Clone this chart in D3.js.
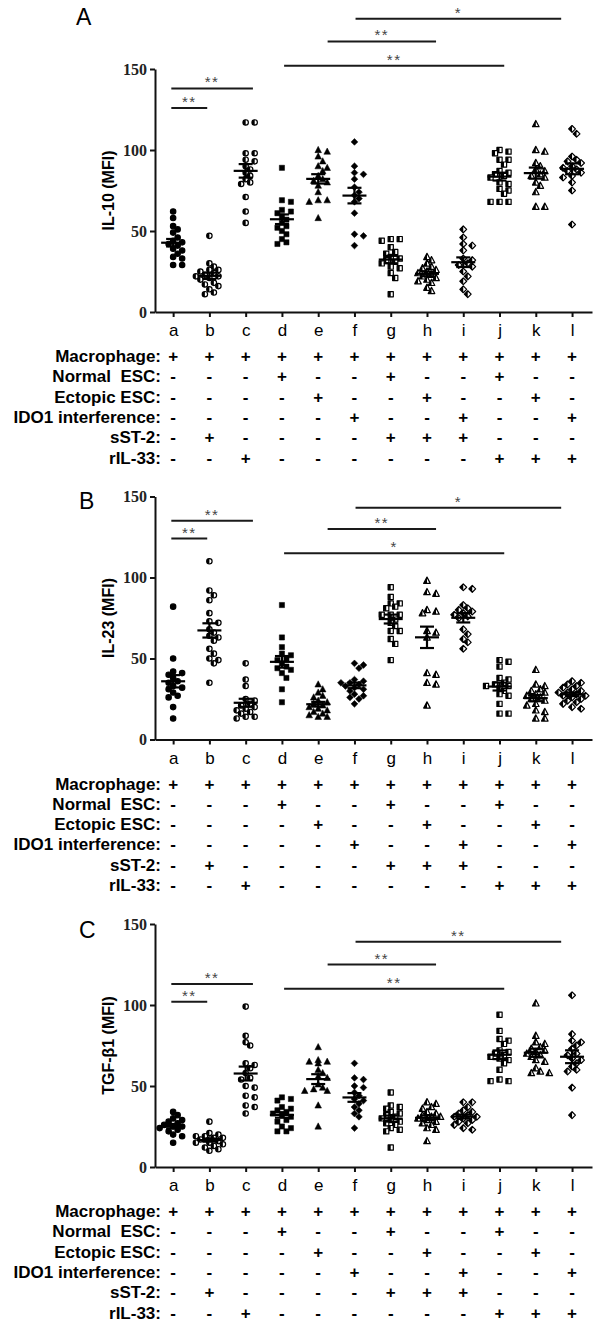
<!DOCTYPE html>
<html lang="en">
<head>
<meta charset="UTF-8" />
<title>IL-10 / IL-23 / TGF-β1</title>
<script src="https://cdn.jsdelivr.net/npm/d3@7/dist/d3.min.js"></script>
<style>
  body { margin: 0; background: #fff; }
  svg { display: block; font-family: "Liberation Sans", Arial, sans-serif; }
</style>
</head>
<body>
<svg id="chart" width="600" height="1327"></svg>
<script>
// groups along the x axis
const groups = ['a', 'b', 'c', 'd', 'e', 'f', 'g', 'h', 'i', 'j', 'k', 'l'];
// marker per group (GraphPad style)
const markers = ['circle', 'circleHalf', 'circleHalf', 'square', 'triangle', 'diamond',
  'squareHalf', 'triangleHalf', 'diamondHalf', 'squareHalf', 'triangleHalf', 'diamondHalf'];

// treatment table under every panel
const conditions = ['Macrophage:', 'Normal  ESC:', 'Ectopic ESC:', 'IDO1 interference:', 'sST-2:', 'rIL-33:'];
const conditionSigns = [
  '++++++++++++',
  '---+--+--+--',
  '----+--+--+-',
  '-----+--+--+',
  '-+----+++---',
  '--+------+++'
];

const yTicks = [0, 50, 100, 150];

// panel A: IL-10 (MFI)
const il10 = [
  [62, 58, 53, 51, 49, 46, 44, 43, 42, 41, 39, 38, 36, 34, 33, 29, 29],
  [47, 30, 28, 26, 26, 25, 24, 23, 22, 22, 21, 20, 18, 17, 16, 14, 12, 11],
  [117, 117, 98, 98, 94, 93, 90, 88, 86, 84, 82, 80, 79, 71, 62, 55],
  [89, 69, 68, 63, 62, 61, 59, 57, 55, 53, 52, 50, 48, 45, 43, 42],
  [100, 99, 96, 93, 90, 89, 87, 84, 82, 81, 80, 78, 74, 69, 69, 68, 58],
  [105, 90, 86, 85, 82, 77, 74, 72, 70, 68, 61, 48, 47, 41],
  [45, 45, 44, 40, 37, 36, 34, 33, 32, 31, 30, 28, 27, 24, 21, 11],
  [34, 32, 30, 28, 27, 26, 25, 24, 23, 22, 21, 20, 19, 18, 15, 13],
  [51, 46, 42, 41, 38, 33, 32, 30, 29, 28, 25, 22, 19, 14, 11],
  [100, 99, 98, 94, 94, 91, 87, 86, 85, 84, 83, 80, 79, 76, 75, 73, 68, 68, 68],
  [116, 100, 99, 92, 90, 88, 87, 85, 84, 83, 80, 78, 74, 65, 65],
  [113, 110, 96, 94, 93, 92, 90, 89, 88, 87, 86, 84, 83, 80, 75, 54]
];
// panel B: IL-23 (MFI)
const il23 = [
  [82, 50, 42, 41, 40, 38, 36, 35, 33, 32, 31, 29, 27, 26, 20, 13],
  [110, 92, 89, 86, 78, 73, 72, 68, 66, 64, 63, 61, 56, 53, 50, 49, 47, 35],
  [47, 37, 33, 25, 24, 22, 21, 20, 19, 18, 17, 16, 14, 14, 13],
  [83, 63, 57, 53, 52, 50, 49, 47, 45, 44, 43, 41, 38, 31, 23],
  [34, 31, 29, 27, 26, 24, 23, 22, 21, 20, 19, 18, 17, 16, 15, 14, 14],
  [47, 46, 44, 37, 35, 36, 35, 34, 33, 32, 31, 30, 28, 27, 26, 25, 22],
  [94, 88, 84, 84, 82, 81, 77, 77, 77, 74, 72, 70, 67, 67, 62, 59, 49],
  [98, 91, 90, 80, 79, 78, 67, 66, 63, 41, 40, 35, 34, 21],
  [94, 93, 83, 81, 80, 79, 78, 77, 76, 75, 68, 65, 62, 60, 56],
  [49, 48, 45, 38, 37, 35, 34, 33, 33, 32, 30, 28, 27, 22, 16, 16],
  [43, 34, 33, 31, 30, 29, 28, 27, 26, 25, 24, 22, 21, 18, 17, 13, 13],
  [36, 35, 34, 33, 32, 31, 30, 29, 29, 28, 27, 27, 26, 25, 24, 23, 22, 20, 19]
];
// panel C: TGF-β1 (MFI)
const tgfb1 = [
  [34, 32, 30, 29, 28, 27, 26, 25, 25, 24, 23, 22, 20, 19, 15],
  [28, 21, 20, 19, 19, 18, 18, 17, 17, 16, 16, 15, 15, 14, 13, 12, 11, 10],
  [99, 81, 77, 75, 64, 63, 61, 58, 55, 54, 50, 49, 44, 43, 38, 37, 33],
  [43, 42, 41, 37, 36, 35, 34, 33, 32, 31, 29, 28, 25, 24, 22, 22],
  [74, 66, 65, 65, 64, 60, 58, 56, 55, 51, 49, 48, 47, 47, 38, 25],
  [64, 55, 54, 50, 49, 46, 44, 42, 41, 39, 37, 35, 33, 31, 24],
  [46, 38, 37, 36, 34, 33, 32, 31, 30, 29, 28, 27, 26, 24, 23, 22, 12],
  [40, 39, 37, 36, 34, 33, 32, 31, 31, 30, 29, 28, 27, 26, 24, 23, 16],
  [40, 40, 37, 35, 34, 33, 32, 31, 31, 30, 30, 29, 28, 27, 26, 24, 23],
  [94, 84, 79, 78, 76, 72, 71, 70, 69, 68, 67, 66, 64, 60, 54, 53, 53],
  [101, 81, 77, 76, 74, 73, 72, 71, 70, 69, 68, 66, 65, 61, 59, 58, 58],
  [106, 82, 78, 77, 75, 73, 70, 69, 67, 66, 64, 62, 60, 59, 49, 32]
];

// significance bars: from/to in group index units, y in MFI
const il10Sig = [
  { from: -0.05, to: 0.94, y: 126, label: '**' },
  { from: -0.05, to: 2.2, y: 138, label: '**' },
  { from: 3.06, to: 9.13, y: 152, label: '**' },
  { from: 4.26, to: 7.25, y: 167, label: '**' },
  { from: 5.03, to: 10.7, y: 181, label: '*' }
];
const il23Sig = [
  { from: -0.05, to: 0.94, y: 124, label: '**' },
  { from: -0.05, to: 2.2, y: 135, label: '**' },
  { from: 3.06, to: 9.13, y: 115, label: '*' },
  { from: 4.26, to: 7.25, y: 130, label: '**' },
  { from: 5.03, to: 10.7, y: 143, label: '*' }
];
const tgfb1Sig = [
  { from: -0.05, to: 0.94, y: 102, label: '**' },
  { from: -0.05, to: 2.2, y: 113, label: '**' },
  { from: 3.06, to: 9.13, y: 110, label: '**' },
  { from: 4.26, to: 7.25, y: 125, label: '**' },
  { from: 5.03, to: 10.7, y: 139, label: '**' }
];

const panels = [
  { letter: 'A', title: 'IL-10 (MFI)', values: il10, sig: il10Sig, top: 0, letterY: 25 },
  { letter: 'B', title: 'IL-23 (MFI)', values: il23, sig: il23Sig, top: 427.5, letterY: 81 },
  { letter: 'C', title: 'TGF-β1 (MFI)', values: tgfb1, sig: tgfb1Sig, top: 855, letterY: 83 }
];

const svg = d3.select('#chart');
const x = d3.scaleLinear().domain([-0.5, 11.55]).range([155, 592]);

function drawMarker(g, shape, cx, cy) {
  const half = shape.endsWith('Half');
  const base = half ? shape.slice(0, -4) : shape;
  const fill = half ? '#fff' : '#000';
  let outline, left;
  if (base === 'circle') {
    const r = 2.7;
    g.append('circle').attr('cx', cx).attr('cy', cy).attr('r', r)
      .attr('fill', fill).attr('stroke', '#000').attr('stroke-width', 1.2);
    if (half) {
      g.append('path').attr('d', `M${cx},${cy - r}A${r},${r} 0 0 0 ${cx},${cy + r}Z`).attr('fill', '#000');
    }
    return;
  }
  if (base === 'square') {
    const s = 2.6;
    outline = [[cx - s, cy - s], [cx + s, cy - s], [cx + s, cy + s], [cx - s, cy + s]];
    left = [[cx - s, cy - s], [cx, cy - s], [cx, cy + s], [cx - s, cy + s]];
  } else if (base === 'triangle') {
    const s = 3.3;
    outline = [[cx, cy - s * 1.1], [cx + s, cy + s * 0.8], [cx - s, cy + s * 0.8]];
    left = [[cx, cy - s * 1.1], [cx, cy + s * 0.8], [cx - s, cy + s * 0.8]];
  } else {
    const s = 3.4;
    outline = [[cx, cy - s], [cx + s, cy], [cx, cy + s], [cx - s, cy]];
    left = [[cx, cy - s], [cx, cy + s], [cx - s, cy]];
  }
  g.append('polygon').attr('points', outline.join(' '))
    .attr('fill', fill).attr('stroke', '#000').attr('stroke-width', half ? 1.2 : 0.5)
    .attr('stroke-linejoin', 'round');
  if (half) g.append('polygon').attr('points', left.join(' ')).attr('fill', '#000');
}

// simple beeswarm: spread points with the same height sideways
function swarm(vals, y) {
  const placed = [];
  const step = 4.5, minDist = 5.4;
  const sorted = vals.slice().sort((p, q) => q - p);
  sorted.forEach(v => {
    const py = y(v);
    const tries = [0, step, -step, 2 * step, -2 * step, 3 * step, -3 * step];
    let dx = tries.find(t => placed.every(p => Math.hypot(p.dx - t, p.py - py) >= minDist));
    if (dx === undefined) dx = 0;
    placed.push({ v, py, dx });
  });
  return placed;
}

panels.forEach(p => {
  const g = svg.append('g').attr('transform', `translate(0,${p.top})`);
  const y = d3.scaleLinear().domain([0, 150]).range([312, 69]);
  const y0 = y(0);

  // panel letter
  g.append('text').attr('x', p.letter === 'A' ? 76 : 79).attr('y', p.letterY)
    .attr('font-size', 23).text(p.letter);

  // y axis
  const yAxis = g.append('g').attr('transform', `translate(${x.range()[0]},0)`)
    .call(d3.axisLeft(y).tickValues(yTicks).tickSize(5).tickSizeOuter(0).tickPadding(3));
  yAxis.select('.domain').attr('stroke', '#111').attr('stroke-width', 2);
  yAxis.selectAll('.tick line').attr('stroke', '#111').attr('stroke-width', 2);
  yAxis.selectAll('.tick text')
    .attr('font-family', '"Liberation Serif", "Times New Roman", serif')
    .attr('font-weight', 'bold').attr('font-size', 16).attr('fill', '#222');

  g.append('text')
    .attr('transform', `translate(114,${(y(0) + y(150)) / 2}) rotate(-90)`)
    .attr('text-anchor', 'middle').attr('font-weight', 'bold').attr('font-size', 16)
    .text(p.title);

  // x axis
  const xAxis = g.append('g').attr('transform', `translate(0,${y0})`)
    .call(d3.axisBottom(x).tickValues(d3.range(groups.length)).tickSize(5)
      .tickSizeOuter(0).tickPadding(7).tickFormat(i => groups[i]));
  xAxis.select('.domain').attr('stroke', '#111').attr('stroke-width', 2);
  xAxis.selectAll('.tick line').attr('stroke', '#111').attr('stroke-width', 2);
  xAxis.selectAll('.tick text').attr('font-size', 17).attr('fill', '#000')
    .attr('font-family', '"Liberation Sans", Arial, sans-serif');

  // points and mean ± SEM
  p.values.forEach((vals, i) => {
    const cx = x(i);
    const mg = g.append('g');
    swarm(vals, y).forEach(pt => drawMarker(mg, markers[i], cx + pt.dx, pt.py));
    const m = d3.mean(vals);
    const sem = d3.deviation(vals) / Math.sqrt(vals.length);
    const eg = g.append('g').attr('stroke', '#000').attr('stroke-width', 2.2);
    eg.append('line').attr('x1', cx - 12).attr('x2', cx + 12).attr('y1', y(m)).attr('y2', y(m));
    eg.append('line').attr('x1', cx).attr('x2', cx).attr('y1', y(m + sem)).attr('y2', y(m - sem));
    [m + sem, m - sem].forEach(v => {
      eg.append('line').attr('x1', cx - 7).attr('x2', cx + 7).attr('y1', y(v)).attr('y2', y(v));
    });
  });

  // significance bars
  p.sig.forEach(s => {
    g.append('line').attr('x1', x(s.from)).attr('x2', x(s.to))
      .attr('y1', y(s.y)).attr('y2', y(s.y)).attr('stroke', '#1a1a1a').attr('stroke-width', 2);
    g.append('text').attr('x', (x(s.from) + x(s.to)) / 2).attr('y', y(s.y) - 1)
      .attr('text-anchor', 'middle').attr('font-size', 15).attr('letter-spacing', 1.5)
      .attr('fill', '#444').text(s.label);
  });

  // treatment table
  conditions.forEach((c, r) => {
    const ry = 362 + r * 20.3;
    g.append('text').attr('x', 161).attr('y', ry).attr('text-anchor', 'end')
      .attr('font-weight', 'bold').attr('font-size', 17).style('white-space', 'pre').text(c);
    conditionSigns[r].split('').forEach((sgn, i) => {
      g.append('text').attr('x', x(i)).attr('y', ry).attr('text-anchor', 'middle')
        .attr('font-weight', 'bold').attr('font-size', 17).text(sgn);
    });
  });
});
</script>
</body>
</html>
